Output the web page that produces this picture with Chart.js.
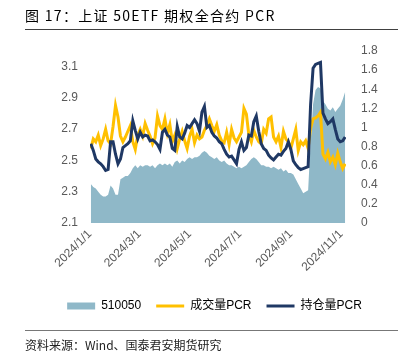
<!DOCTYPE html>
<html>
<head>
<meta charset="utf-8">
<script src="https://cdn.jsdelivr.net/npm/chart.js@4.4.1/dist/chart.umd.min.js"></script>
<style>
html,body{margin:0;padding:0;background:#fff;width:409px;height:357px;overflow:hidden;}
#wrap{position:relative;width:409px;height:357px;}
#c{position:absolute;left:0;top:0;}
.title{position:absolute;left:25px;top:8px;font-family:'Noto Sans CJK SC',sans-serif;font-size:14px;line-height:1;letter-spacing:1.3px;color:#000;white-space:pre;}
.rule{position:absolute;left:25px;width:373px;height:1px;}
.foot{position:absolute;left:25px;top:339px;font-family:'Noto Sans CJK SC',sans-serif;font-size:12px;line-height:1;color:#222;white-space:pre;}
</style>
</head>
<body>
<div id="wrap">
<canvas id="c" width="409" height="357"></canvas>
<div class="title">图 17：上证 50ETF 期权全合约 PCR</div>
<div class="rule" style="top:29px;background:#404040;"></div>
<div class="rule" style="top:330px;background:#777;"></div>
<div class="foot">资料来源：Wind、国泰君安期货研究</div>
</div>
<script>
// sample days (day 0 = 2024/1/1)
const days = [1,4,7,10,13,16,19,22,25,28,31,34,37,40,43,46,49,52,55,58,61,64,67,70,73,76,79,82,85,88,91,94,97,100,103,106,109,112,115,118,121,124,127,130,133,136,139,142,145,148,151,154,157,160,163,166,169,172,175,178,181,184,187,190,193,196,199,202,205,208,211,214,217,220,223,226,229,232,235,238,241,244,247,250,253,256,259,262,265,268,271,274,277,280,283,286,289,292,295,298,301,304,307,310];
const tickDays = [0,60,121,182,244,305];
const tickLabels = ['2024/1/1','2024/3/1','2024/5/1','2024/7/1','2024/9/1','2024/11/1'];
const leftTicks = [2.1,2.3,2.5,2.7,2.9,3.1];
const rightTicks = [0,0.2,0.4,0.6,0.8,1,1.2,1.4,1.6,1.8];
const seriesNames = ['510050','成交量PCR','持仓量PCR'];

const etf510050 = [2.35,2.33,2.32,2.30,2.28,2.27,2.27,2.28,2.34,2.32,
2.28,2.28,2.38,2.39,2.40,2.40,2.42,2.45,2.47,2.45,
2.47,2.46,2.47,2.47,2.46,2.47,2.45,2.47,2.48,2.47,
2.48,2.47,2.48,2.46,2.49,2.50,2.48,2.50,2.49,2.51,
2.52,2.51,2.52,2.52,2.53,2.55,2.56,2.55,2.53,2.52,
2.51,2.52,2.50,2.49,2.50,2.48,2.47,2.47,2.46,2.45,
2.46,2.45,2.46,2.47,2.49,2.51,2.52,2.51,2.49,2.47,
2.47,2.46,2.46,2.45,2.46,2.45,2.44,2.45,2.43,2.44,
2.42,2.42,2.41,2.38,2.35,2.32,2.29,2.30,2.31,2.62,
2.86,2.95,2.97,2.96,2.88,2.86,2.83,2.82,2.84,2.81,
2.83,2.85,2.89,2.94];

const volumePCR = [0.78,0.88,0.85,0.92,0.81,0.88,0.98,0.86,0.83,1.01,
1.23,1.11,0.91,0.85,0.90,0.96,1.02,0.85,0.77,0.92,
0.98,0.91,1.04,0.97,0.91,0.83,0.89,1.12,1.02,0.98,
1.09,0.94,1.03,0.85,0.92,0.78,0.88,0.96,0.86,0.78,
0.91,0.98,0.84,0.92,0.88,0.90,0.97,1.02,1.09,1.02,
0.96,1.03,0.92,0.86,0.84,0.95,0.82,0.98,0.89,0.85,
0.90,0.95,1.20,1.14,0.92,0.85,0.97,0.90,0.85,0.83,
0.98,0.94,1.09,1.11,0.90,0.85,0.91,0.79,0.96,0.88,
0.85,0.78,0.88,0.98,0.76,0.85,0.82,0.86,0.78,0.99,
1.09,1.10,1.12,1.16,0.72,0.67,0.74,0.64,0.69,0.61,
0.73,0.64,0.57,0.62];

const oiPCR = [0.83,0.76,0.67,0.64,0.62,0.59,0.55,0.56,0.85,0.85,
0.72,0.62,0.67,0.79,0.81,0.83,0.86,1.07,0.97,0.88,
0.95,0.90,0.92,0.91,0.86,0.87,0.85,0.82,0.77,0.95,
0.98,0.92,0.90,0.78,0.76,1.01,0.90,0.88,0.94,1.02,
1.00,1.04,1.08,1.04,0.96,1.16,1.22,1.00,1.02,0.95,
0.91,0.89,0.85,0.83,0.77,0.72,0.69,0.70,0.66,0.62,
0.77,0.85,0.76,0.79,0.92,0.91,1.06,1.12,0.96,0.83,
0.78,0.76,0.71,0.68,0.66,0.69,0.72,0.71,0.75,0.78,
0.85,0.77,0.65,0.61,0.58,0.56,0.57,0.58,0.59,1.24,
1.62,1.66,1.67,1.68,1.15,1.09,1.04,1.06,1.09,0.98,
0.88,0.85,0.86,0.90];

const AREA = '#8FB8C8', GOLD = '#FFC000', NAVY = '#1F3864', TXT = '#595959';
const pts = vals => vals.map((v, i) => ({x: days[i], y: v}));

Chart.defaults.font.family = "'Liberation Sans','Noto Sans CJK SC',sans-serif";
Chart.defaults.font.size = 12;
Chart.defaults.color = TXT;

new Chart(document.getElementById('c'), {
  type: 'line',
  data: {
    datasets: [
      {label: seriesNames[2], data: pts(oiPCR), yAxisID: 'y1', borderColor: NAVY, borderWidth: 3, pointRadius: 0, tension: 0, fill: false, order: 1},
      {label: seriesNames[1], data: pts(volumePCR), yAxisID: 'y1', borderColor: GOLD, borderWidth: 3, pointRadius: 0, tension: 0, fill: false, order: 2},
      {label: seriesNames[0], data: pts(etf510050), yAxisID: 'y', borderColor: AREA, backgroundColor: AREA, borderWidth: 0, pointRadius: 0, tension: 0, fill: 'start', order: 3}
    ]
  },
  options: {
    responsive: false,
    animation: false,
    devicePixelRatio: 1,
    layout: {padding: {left: 25, right: 5, top: 51, bottom: 35}},
    plugins: {
      tooltip: {enabled: false},
      title: {display: false},
      legend: {
        position: 'bottom',
        labels: {
          usePointStyle: true,
          pointStyleWidth: 28,
          boxHeight: 7,
          padding: 15,
          color: TXT,
          font: {size: 12},
          generateLabels: () => [
            {text: seriesNames[0], fillStyle: AREA, strokeStyle: AREA, lineWidth: 0, pointStyle: 'rect', hidden: false, datasetIndex: 2},
            {text: seriesNames[1], fillStyle: GOLD, strokeStyle: GOLD, lineWidth: 3, pointStyle: 'line', hidden: false, datasetIndex: 1},
            {text: seriesNames[2], fillStyle: NAVY, strokeStyle: NAVY, lineWidth: 3, pointStyle: 'line', hidden: false, datasetIndex: 0}
          ]
        }
      }
    },
    scales: {
      x: {
        type: 'linear', min: 0, max: 311,
        grid: {display: false, drawTicks: false}, border: {display: false},
        afterBuildTicks: s => { s.ticks = tickDays.map(v => ({value: v})); },
        afterFit: s => { s.height = 62; },
        ticks: {autoSkip: false, minRotation: 45, maxRotation: 45, padding: 4,
          callback: v => { const i = tickDays.indexOf(v); return i >= 0 ? tickLabels[i] : ''; }}
      },
      y: {
        position: 'left', min: 2.1, max: 3.2,
        grid: {display: false, drawTicks: false}, border: {display: false},
        afterBuildTicks: s => { s.ticks = leftTicks.map(v => ({value: v})); },
        afterFit: s => { s.width = 65; },
        ticks: {autoSkip: false, padding: 12, callback: v => v.toFixed(1)}
      },
      y1: {
        position: 'right', min: 0, max: 1.8,
        grid: {display: false, drawTicks: false}, border: {display: false},
        afterBuildTicks: s => { s.ticks = rightTicks.map(v => ({value: v})); },
        afterFit: s => { s.width = 58; },
        ticks: {autoSkip: false, padding: 15, callback: v => String(Math.round(v * 10) / 10)}
      }
    }
  }
});
</script>
</body>
</html>
